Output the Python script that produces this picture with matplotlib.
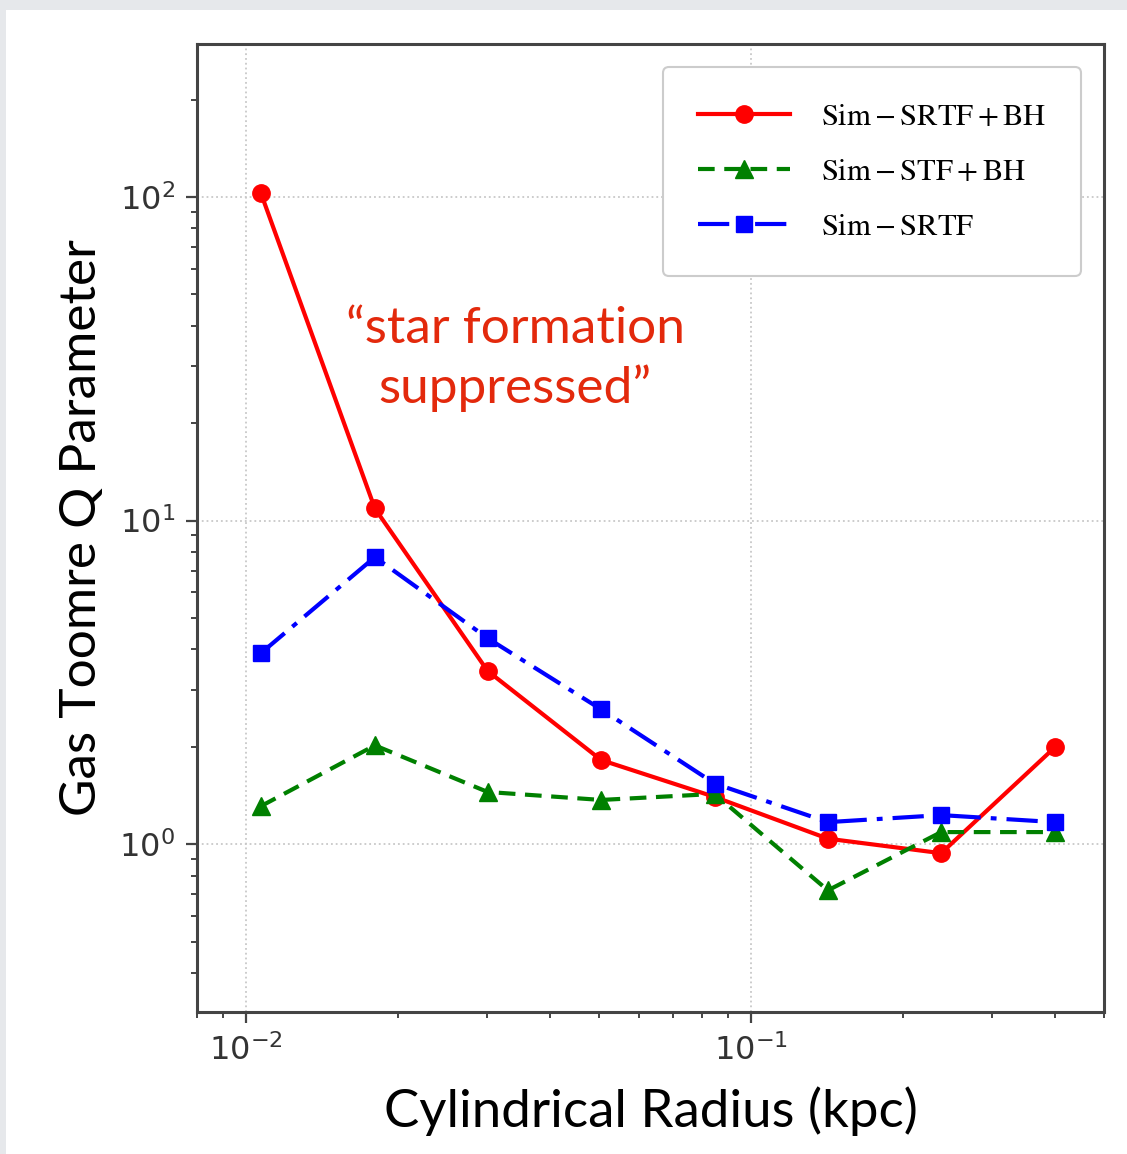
import numpy as np
import matplotlib
matplotlib.use('Agg')
import matplotlib.pyplot as plt
from matplotlib.patches import Rectangle

# data
radius = [0.0107, 0.0180, 0.0301, 0.0505, 0.0847, 0.142, 0.238, 0.400]
q_srtf_bh = [103, 10.9, 3.43, 1.82, 1.40, 1.04, 0.938, 1.995]
q_stf_bh = [1.31, 2.02, 1.45, 1.37, 1.43, 0.72, 1.09, 1.09]
q_srtf = [3.89, 7.71, 4.33, 2.61, 1.54, 1.17, 1.23, 1.17]
labels = [r'$\mathrm{Sim-SRTF+BH}$', r'$\mathrm{Sim-STF+BH}$', r'$\mathrm{Sim-SRTF}$']

plt.rcParams['mathtext.fontset'] = 'stix'

W, H = 1127, 1154
fig = plt.figure(figsize=(W/100, H/100), dpi=100)
fig.patch.set_facecolor('#e6e8eb')
fig.patches.append(Rectangle((6/W, 0), 1, 1 - 10/H, transform=fig.transFigure,
                             facecolor='white', edgecolor='none', zorder=-10))

ax = fig.add_axes([197/W, 1 - 1012/H, (1104-197)/W, (1012-44)/H])
ax.set_zorder(5)
ax.set_xscale('log')
ax.set_yscale('log')

ax.plot(radius, q_srtf_bh, color='red', ls='-', lw=3.0, marker='o', ms=12.5, label=labels[0])
ax.plot(radius, q_stf_bh, color='green', ls='--', lw=3.0, marker='^', ms=13.5,
        dashes=(4, 2.3), label=labels[1])
ax.plot(radius, q_srtf, color='blue', ls='-.', lw=3.0, marker='s', ms=12,
        dashes=(7.5, 2.4, 1.4, 2.4), label=labels[2])

ax.set_xlim(0.0080, 0.50)
ax.set_ylim(0.303, 297)

ax.grid(True, which='major', ls=':', color='#c8c8c8', lw=1.3)
for s in ax.spines.values():
    s.set_color('#444444')
    s.set_linewidth(2.2)
ax.tick_params(which='major', length=8, width=1.6, color='#444444', labelsize=23,
               labelcolor='#333333', pad=8)
ax.tick_params(which='minor', length=4.5, width=1.4, color='#444444')

ax.set_xlabel('Cylindrical Radius (kpc)', family='Lato', fontsize=38, labelpad=14)
ax.set_ylabel('Gas Toomre Q Parameter', family='Lato', fontsize=37, labelpad=10)

ax.text(0.0341, 31.5, '\u201cstar formation\nsuppressed\u201d', color='#e3290c',
        family='Lato', fontsize=37, ha='center', va='center', linespacing=1.32)

leg = ax.legend(loc='upper right', fontsize=22, handlelength=3.0, handletextpad=1.0,
                labelspacing=0.85, borderpad=1.15, borderaxespad=0.75,
                fancybox=True, edgecolor='#cccccc', framealpha=1)
leg.get_frame().set_linewidth(1.5)

fig.savefig('out.png', dpi=100, facecolor=fig.get_facecolor())
